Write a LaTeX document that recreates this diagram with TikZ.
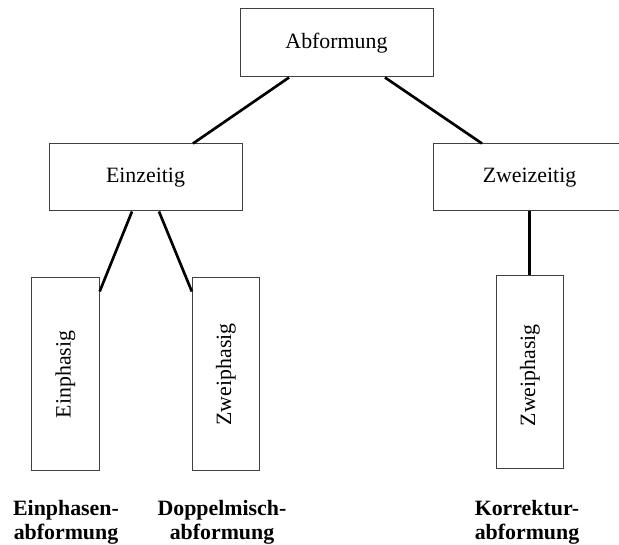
\documentclass[tikz,border=0pt]{standalone}
\usepackage{fontspec}
\setmainfont{Liberation Serif}
\usepackage{tikz}
\usetikzlibrary{calc}

\begin{document}
\begin{tikzpicture}[x=0.75pt,y=-0.75pt,
    box/.style={draw=black!75,line width=0.75pt,inner sep=0pt,font=\fontsize{16.4}{19}\selectfont},
    conn/.style={line width=2pt},
    lab/.style={align=center,inner sep=0pt,font=\fontsize{16.4}{18}\selectfont\bfseries}]
\useasboundingbox (0,0) rectangle (619,545);
\node[box,minimum width=144.75pt,minimum height=51pt] (abf) at (336.5,43) {Abformung};
\node[box,minimum width=144.75pt,minimum height=50.25pt] (ein) at (145.5,177.5) {Einzeitig};
\node[box,minimum width=144.75pt,minimum height=50.25pt] (zwei) at (529.5,177.5) {Zweizeitig};

\foreach \name/\x/\y/\txt in {
    p1/65.5/374.5/Einphasig,
    p2/226/374.5/Zweiphasig,
    p3/530/372.5/Zweiphasig
} {
    \node[box,minimum width=50.5pt,minimum height=144.75pt] (\name) at (\x,\y) {\rotatebox{90}{\txt}};
}

\draw[conn] ($(abf.south)+(-47.5,0)$) -- ($(ein.north)+(47.5,0)$);
\draw[conn] ($(abf.south)+(48.5,0)$) -- ($(zwei.north)+(-47.5,0)$);
\draw[conn] ($(ein.south)+(-13.5,0)$) -- ($(p1.north east)+(0,14)$);
\draw[conn] ($(ein.south)+(13.5,0)$) -- ($(p2.north west)+(0,14)$);
\draw[conn] (zwei.south) -- (zwei.south |- p3.north);

\node[lab] (lab1) at (66,522) {Einphasen-\\abformung};
\node[lab] (lab2) at (222,522) {Doppelmisch-\\abformung};
\node[lab] (lab3) at (527,522) {Korrektur-\\abformung};
\end{tikzpicture}
\end{document}
